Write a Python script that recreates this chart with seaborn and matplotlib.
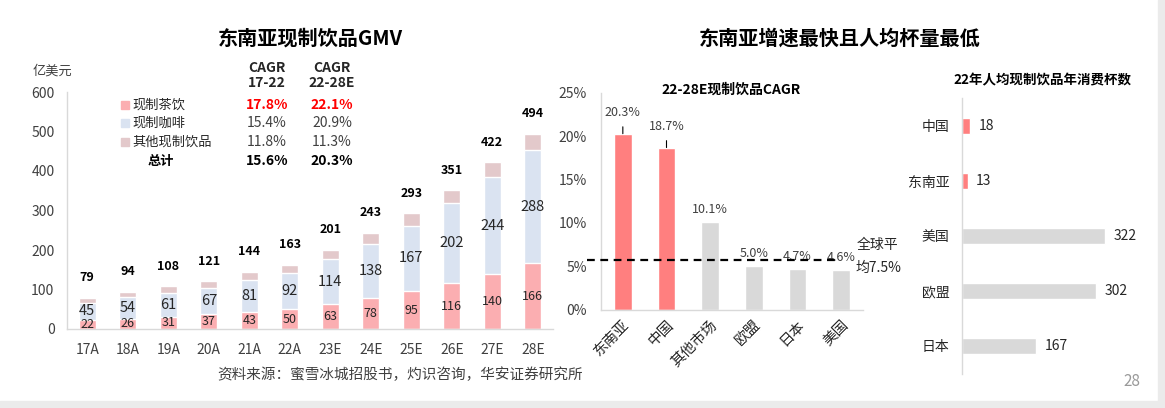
import matplotlib
matplotlib.use('Agg')
import matplotlib.pyplot as plt
from matplotlib.patches import Rectangle
import seaborn as sns
import numpy as np

# left chart: GMV of fresh drinks in SE Asia (100m USD)
years = ['17A', '18A', '19A', '20A', '21A', '22A', '23E', '24E', '25E', '26E', '27E', '28E']
tea = [22, 26, 31, 37, 43, 50, 63, 78, 95, 116, 140, 166]
coffee = [45, 54, 61, 67, 81, 92, 114, 138, 167, 202, 244, 288]
total = [79, 94, 108, 121, 144, 163, 201, 243, 293, 351, 422, 494]

# CAGR table next to the legend
row_names = ['现制茶饮', '现制咖啡', '其他现制饮品', '总计']
cagr_17_22 = [17.8, 15.4, 11.8, 15.6]
cagr_22_28 = [22.1, 20.9, 11.3, 20.3]

# middle chart: 22-28E CAGR by market
markets = ['东南亚', '中国', '其他市场', '欧盟', '日本', '美国']
market_cagr = [20.3, 18.7, 10.1, 5.0, 4.7, 4.6]
global_avg_line = 5.7

# right chart: cups per capita in 2022
regions = ['中国', '东南亚', '美国', '欧盟', '日本']
cups = [18, 13, 322, 302, 167]

c_tea = '#FBAEB1'
c_coffee = '#DAE3F1'
c_other = '#E3C9CB'
c_red = '#FF7F7F'
c_gray = '#D9D9D9'
axis_gray = '#D9D9D9'
txt = '#404040'

sns.set_theme(style='white')
plt.rcParams['font.family'] = ['Noto Sans CJK SC', 'DejaVu Sans']
plt.rcParams['axes.unicode_minus'] = False

W, H = 1165, 408
fig = plt.figure(figsize=(W / 100, H / 100), dpi=100)
fig.patch.set_facecolor('white')


def fx(x):
    return x / W


def fy(y):
    return 1 - y / H


def style_axis(ax):
    for s in ['top', 'right']:
        ax.spines[s].set_visible(False)
    for s in ['left', 'bottom']:
        ax.spines[s].set_color(axis_gray)
        ax.spines[s].set_linewidth(1)
    ax.set_xlabel('')
    ax.set_ylabel('')


# ---------------- left: stacked bars ----------------
axL = fig.add_axes([fx(67), fy(329), fx(553) - fx(67), (329 - 92) / H])
tea_coffee = [t + c for t, c in zip(tea, coffee)]
sns.barplot(x=years, y=total, color=c_other, width=0.43, saturation=1, ax=axL, errorbar=None)
sns.barplot(x=years, y=tea_coffee, color=c_coffee, width=0.43, saturation=1, ax=axL, errorbar=None)
sns.barplot(x=years, y=tea, color=c_tea, width=0.43, saturation=1, ax=axL, errorbar=None)
style_axis(axL)
axL.set_xlim(-0.5, len(years) - 0.5)
axL.set_ylim(0, 600)
axL.set_yticks(range(0, 601, 100))
axL.set_xticks(np.arange(-0.5, len(years), 1), minor=True)
axL.tick_params(axis='x', which='major', length=0, pad=10, labelsize=10, labelcolor=txt)
axL.tick_params(axis='x', which='minor', length=5, color=axis_gray, direction='out')
axL.tick_params(axis='y', length=0, pad=9, labelsize=10, labelcolor=txt)

for i in range(len(years)):
    axL.text(i, tea[i] / 2, str(tea[i]), ha='center', va='center', fontsize=9, color='#262626')
    axL.text(i, tea[i] + coffee[i] / 2, str(coffee[i]), ha='center', va='center',
             fontsize=10.5, color='#262626')
    axL.annotate(str(total[i]), (i, total[i]), xytext=(0, 14.5), textcoords='offset points',
                 ha='center', va='center', fontsize=9, fontweight='bold', color='black')

fig.text(fx(52), fy(71), '亿美元', ha='center', va='center', fontsize=9.5, color=txt)

# legend + CAGR table
fig.text(fx(267), fy(68), 'CAGR', ha='center', va='center', fontsize=10, fontweight='bold')
fig.text(fx(267), fy(83), '17-22', ha='center', va='center', fontsize=10, fontweight='bold')
fig.text(fx(332), fy(68), 'CAGR', ha='center', va='center', fontsize=10, fontweight='bold')
fig.text(fx(332), fy(83), '22-28E', ha='center', va='center', fontsize=10, fontweight='bold')
row_y = [105, 123, 142, 161]
leg_colors = [c_tea, c_coffee, c_other]
for k, name in enumerate(row_names):
    y = row_y[k]
    if k < 3:
        fig.patches.append(Rectangle((fx(120.5), fy(y + 4)), 8 / W, 8 / H,
                                     transform=fig.transFigure, color=leg_colors[k]))
        fig.text(fx(132), fy(y), name, ha='left', va='center', fontsize=9.5, color='#262626')
    else:
        fig.text(fx(161), fy(y), name, ha='center', va='center', fontsize=9.5,
                 fontweight='bold', color='black')
    if k == 0:
        col, w = '#FF0000', 'bold'
    elif k == 3:
        col, w = 'black', 'bold'
    else:
        col, w = txt, 'normal'
    fig.text(fx(267), fy(y), f'{cagr_17_22[k]:.1f}%', ha='center', va='center',
             fontsize=10, color=col, fontweight=w)
    fig.text(fx(332), fy(y), f'{cagr_22_28[k]:.1f}%', ha='center', va='center',
             fontsize=10, color=col, fontweight=w)

fig.text(fx(310), fy(38), '东南亚现制饮品GMV', ha='center', va='center',
         fontsize=14.5, fontweight='bold', color='black')
fig.text(fx(400), fy(375), '资料来源：蜜雪冰城招股书，灼识咨询，华安证券研究所',
         ha='center', va='center', fontsize=10.5, color='#404040', style='italic')

# ---------------- middle: CAGR bars ----------------
axM = fig.add_axes([fx(601), fy(309.5), fx(863) - fx(601), (309.5 - 93) / H])
mid_colors = [c_red, c_red] + [c_gray] * (len(markets) - 2)
sns.barplot(x=markets, y=market_cagr, hue=markets, palette=mid_colors, legend=False,
            width=0.4, saturation=1, ax=axM, errorbar=None)
style_axis(axM)
axM.set_xlim(-0.5, len(markets) - 0.5)
axM.set_ylim(0, 25)
axM.set_yticks(range(0, 26, 5))
axM.set_yticklabels([f'{v}%' for v in range(0, 26, 5)])
axM.set_xticks(np.arange(-0.5, len(markets), 1), minor=True)
axM.tick_params(axis='x', which='major', length=0, pad=6, labelsize=10.5, labelcolor='#262626')
axM.tick_params(axis='x', which='minor', length=4, color=axis_gray, direction='out')
axM.tick_params(axis='y', length=0, pad=10, labelsize=10, labelcolor=txt)
for lab in axM.get_xticklabels():
    lab.set_rotation(45)
    lab.set_ha('right')
    lab.set_va('top')
    lab.set_rotation_mode('anchor')

for i, v in enumerate(market_cagr):
    if i < 2:
        axM.annotate(f'{v:.1f}%', (i, v), xytext=(0, 15), textcoords='offset points',
                     ha='center', va='center', fontsize=9, color=txt,
                     arrowprops=dict(arrowstyle='-', color='black', lw=0.8,
                                     shrinkA=3, shrinkB=0))
    else:
        axM.annotate(f'{v:.1f}%', (i, v), xytext=(0, 9), textcoords='offset points',
                     ha='center', va='center', fontsize=9, color=txt)

axM.hlines(global_avg_line, -0.82, 4.98, colors='black', linestyles=(0, (3.5, 2.5)),
           lw=1.6, clip_on=False, zorder=5)
fig.text(fx(857), fy(245), '全球平', ha='left', va='center', fontsize=10, color='#262626')
fig.text(fx(855), fy(268), '均7.5%', ha='left', va='center', fontsize=10, color='#262626')
fig.text(fx(731), fy(90), '22-28E现制饮品CAGR', ha='center', va='center',
         fontsize=10, fontweight='bold', color='black')

fig.text(fx(840), fy(38), '东南亚增速最快且人均杯量最低', ha='center', va='center',
         fontsize=14.5, fontweight='bold', color='black')

# ---------------- right: cups per capita ----------------
axR = fig.add_axes([fx(962), fy(373.5), fx(1130) - fx(962), 275 / H])
right_colors = [c_red, c_red] + [c_gray] * (len(regions) - 2)
sns.barplot(x=cups, y=regions, hue=regions, palette=right_colors, legend=False, orient='h',
            width=0.3, saturation=1, ax=axR, errorbar=None)
style_axis(axR)
axR.spines['bottom'].set_visible(False)
axR.set_xlim(0, 378)
axR.set_ylim(len(regions) - 0.5, -0.5)
axR.set_xticks([])
axR.set_yticks(np.arange(-0.5, len(regions), 1), minor=True)
axR.tick_params(axis='y', which='major', length=0, pad=9, labelsize=10, labelcolor='#262626')
axR.tick_params(axis='y', which='minor', length=4, color=axis_gray, direction='in')
for i, v in enumerate(cups):
    axR.annotate(str(v), (v, i), xytext=(6, 0), textcoords='offset points',
                 ha='left', va='center', fontsize=10, color='#262626')
fig.text(fx(1042), fy(80), '22年人均现制饮品年消费杯数', ha='center', va='center',
         fontsize=9.7, fontweight='bold', color='black')

# slide frame and page number
fig.patches.append(Rectangle((fx(1158), 0), 7 / W, 1, transform=fig.transFigure,
                             color='#EBEBEB', zorder=0))
fig.patches.append(Rectangle((0, 0), 1, 7 / H, transform=fig.transFigure,
                             color='#EBEBEB', zorder=0))
fig.text(fx(1132), fy(381), '28', ha='center', va='center', fontsize=11, color='#999999')

fig.savefig('out.png', dpi=100)
